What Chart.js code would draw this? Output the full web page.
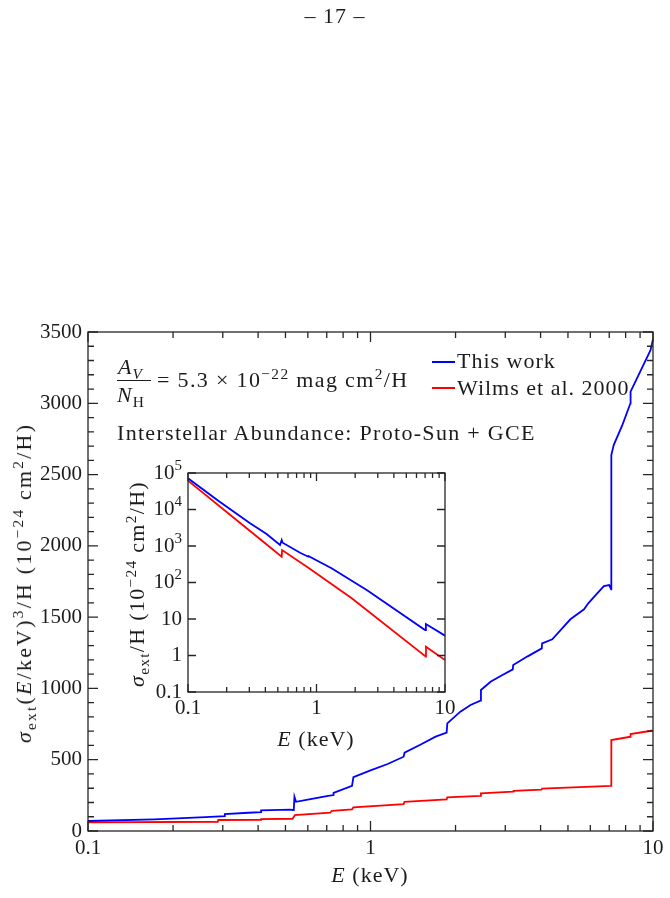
<!DOCTYPE html>
<html lang="en">
<head>
<meta charset="utf-8">
<title>sigma_ext</title>
<script src="https://cdn.jsdelivr.net/npm/chart.js@4.4.1/dist/chart.umd.min.js"></script>
<style>
  html, body { margin: 0; padding: 0; background: #fff; }
  #hoja { position: relative; width: 670px; height: 898px; overflow: hidden;
          font-family: "Liberation Serif", "DejaVu Serif", serif; color: #1c1c1c; }
  #hoja canvas { position: absolute; }
  #principal { left: 0; top: 0; }
  #inserto { left: 120px; top: 455px; }
  .txt { position: absolute; white-space: nowrap; font-size: 22px; line-height: 1; letter-spacing: 1px; }
  .sup { font-size: 70%; position: relative; top: -0.5em; }
  .sub { font-size: 70%; position: relative; top: 0.3em; }
  .centro { transform: translateX(-50%); }
  .rot { transform: translate(-50%, -50%) rotate(-90deg); }
  .barra { position: absolute; height: 1.2px; background: #1c1c1c; }
  .muestra { position: absolute; height: 2px; }
</style>
</head>
<body>
<div id="hoja">
  <canvas id="principal" width="670" height="898"></canvas>
  <canvas id="inserto" width="340" height="305"></canvas>

  <div class="txt centro" style="left:335px; top:5px;">– 17 –</div>

  <div class="txt" style="left:118px; top:356px;"><i>A</i><span class="sub"><i>V</i></span></div>
  <div class="barra" style="left:117px; top:380px; width:34px;"></div>
  <div class="txt" style="left:117px; top:384px;"><i>N</i><span class="sub">H</span></div>
  <div class="txt" style="left:157px; top:369px; letter-spacing:1.35px;">= 5.3 × 10<span class="sup">−22</span> mag cm<span class="sup">2</span>/H</div>
  <div class="txt" style="left:117px; top:422px; letter-spacing:1.3px;">Interstellar Abundance: Proto-Sun + GCE</div>

  <div class="muestra" style="left:432px; top:361px; width:23px; background:#0000ff;"></div>
  <div class="txt" style="left:457px; top:350px;">This work</div>
  <div class="muestra" style="left:432px; top:387px; width:23px; background:#ff0000;"></div>
  <div class="txt" style="left:457px; top:377px;">Wilms et al. 2000</div>

  <div class="txt centro" style="left:370px; top:864px;"><i>E</i> (keV)</div>
  <div class="txt centro" style="left:316px; top:728px;"><i>E</i> (keV)</div>

  <div class="txt rot" style="left:24px; top:583px; letter-spacing:2.2px;"><i>σ</i><span class="sub">ext</span>(<i>E</i>/keV)<span class="sup">3</span>/H (10<span class="sup">−24</span> cm<span class="sup">2</span>/H)</div>
  <div class="txt rot" style="left:137px; top:584px; letter-spacing:1.3px;"><i>σ</i><span class="sub">ext</span>/H (10<span class="sup">−24</span> cm<span class="sup">2</span>/H)</div>
</div>

<script>
// --- datos del panel principal: sigma_ext (E/keV)^3 / H ---
const energiaAzul = [0.1, 0.172, 0.26, 0.305, 0.305, 0.37, 0.41, 0.41, 0.52, 0.535, 0.538, 0.545, 0.6, 0.7, 0.74, 0.74,
    0.86, 0.87, 1.0, 1.15, 1.31, 1.32, 1.5, 1.7, 1.86, 1.87, 2.08, 2.26, 2.45, 2.46, 2.66, 2.92, 3.19, 3.2, 3.6,
    4.04, 4.05, 4.4, 5.1, 5.7, 5.9, 6.3, 6.7, 7.0, 7.11, 7.12, 7.26, 7.8, 8.32, 8.33, 9.0, 9.8, 10];
const valorAzul = [70, 82, 98, 105, 119, 128, 133, 145, 150, 146, 240, 205, 220, 245, 252, 268,
    316, 378, 425, 470, 521, 549, 605, 662, 690, 755, 837, 884, 914, 989, 1047, 1092, 1134, 1164, 1225,
    1281, 1316, 1345, 1485, 1555, 1597, 1660, 1718, 1725, 1695, 2637, 2707, 2850, 3000, 3082, 3220, 3373, 3450];

const energiaRoja = [0.1, 0.288, 0.289, 0.41, 0.41, 0.53, 0.54, 0.72, 0.73, 0.86, 0.87, 1.31, 1.32, 1.86, 1.87,
    2.45, 2.46, 3.2, 3.21, 4.03, 4.05, 7.11, 7.12, 8.32, 8.33, 10];
const valorRoja = [61, 65, 77, 78, 84, 86, 112, 128, 142, 152, 166, 189, 205, 222, 236,
    247, 264, 276, 282, 290, 297, 316, 638, 661, 680, 705];

// --- datos del recuadro: sigma_ext / H (log-log) ---
const energiaAzulIns = [0.1, 0.172, 0.304, 0.409, 0.52, 0.536, 0.545, 0.745, 0.863, 0.87, 1.31, 1.88, 2.46, 7.0, 7.1, 10];
const valorAzulIns = [71600, 17400, 4190, 2130, 1065, 1460, 1230, 655, 509, 525, 245, 112, 62.4, 5.0, 7.3, 3.5];
const energiaRojaIns = [0.1, 0.286, 0.405, 0.536, 0.54, 0.875, 1.88, 7.1, 7.11, 10];
const valorRojaIns = [61500, 3050, 1135, 509, 776, 245, 36.9, 0.93, 1.74, 0.75];

// --- marcas de ejes ---
const xMayores = [0.1, 1, 10];
const xMenores = [0.2, 0.3, 0.4, 0.5, 0.6, 0.7, 0.8, 0.9, 2, 3, 4, 5, 6, 7, 8, 9];
const yMayores = [0, 500, 1000, 1500, 2000, 2500, 3000, 3500];
const yMenores = [100, 200, 300, 400, 600, 700, 800, 900, 1100, 1200, 1300, 1400, 1600, 1700, 1800, 1900,
    2100, 2200, 2300, 2400, 2600, 2700, 2800, 2900, 3100, 3200, 3300, 3400];
const yInsTicks = [0.1, 1, 10, 100, 1000, 10000, 100000];
const yInsEtiquetas = [['0.1', ''], ['1', ''], ['10', ''], ['10', '2'], ['10', '3'], ['10', '4'], ['10', '5']];

const FUENTE = '"Liberation Serif", serif';
const TINTA = '#1c1c1c';

const puntos = (xs, ys) => xs.map((x, i) => ({ x: x, y: ys[i] }));

// caja con marcas hacia adentro en los cuatro lados
const cajaEjes = {
    id: 'cajaEjes',
    afterDraw(chart, args, opts) {
        const { ctx, chartArea: a, scales } = chart;
        ctx.save();
        ctx.strokeStyle = '#262626';
        ctx.lineWidth = 1.3;
        ctx.beginPath();
        const marcaX = (v, largo) => {
            const px = scales.x.getPixelForValue(v);
            ctx.moveTo(px, a.bottom); ctx.lineTo(px, a.bottom - largo);
            ctx.moveTo(px, a.top); ctx.lineTo(px, a.top + largo);
        };
        const marcaY = (v, largo) => {
            const py = scales.y.getPixelForValue(v);
            ctx.moveTo(a.left, py); ctx.lineTo(a.left + largo, py);
            ctx.moveTo(a.right, py); ctx.lineTo(a.right - largo, py);
        };
        opts.xMay.forEach(v => marcaX(v, opts.largo));
        opts.xMen.forEach(v => marcaX(v, opts.corto));
        opts.yMay.forEach(v => marcaY(v, opts.largo));
        opts.yMen.forEach(v => marcaY(v, opts.corto));
        ctx.stroke();
        ctx.strokeRect(a.left, a.top, a.right - a.left, a.bottom - a.top);
        ctx.restore();
    }
};

// fondo blanco del recuadro
const fondoBlanco = {
    id: 'fondoBlanco',
    beforeDraw(chart) {
        const { ctx, chartArea: a } = chart;
        ctx.save();
        ctx.fillStyle = '#fff';
        ctx.fillRect(a.left, a.top, a.right - a.left, a.bottom - a.top);
        ctx.restore();
    }
};

// etiquetas 10^n del eje y del recuadro
const etiquetasPotencia = {
    id: 'etiquetasPotencia',
    afterDraw(chart) {
        const { ctx, chartArea: a, scales } = chart;
        ctx.save();
        ctx.fillStyle = TINTA;
        ctx.textBaseline = 'middle';
        ctx.textAlign = 'right';
        const xr = a.left - 6;
        yInsTicks.forEach((v, i) => {
            const py = scales.y.getPixelForValue(v);
            const [base, exp] = yInsEtiquetas[i];
            if (exp) {
                ctx.font = '15px ' + FUENTE;
                ctx.fillText(exp, xr, py - 7);
                const w = ctx.measureText(exp).width;
                ctx.font = '21px ' + FUENTE;
                ctx.fillText(base, xr - w, py);
            } else {
                ctx.font = '21px ' + FUENTE;
                ctx.fillText(base, xr, py);
            }
        });
        ctx.restore();
    }
};

const estiloLinea = (color) => ({
    borderColor: color,
    backgroundColor: color,
    borderWidth: 1.8,
    showLine: true,
    pointRadius: 0,
    tension: 0,
    fill: false
});

new Chart(document.getElementById('principal').getContext('2d'), {
    type: 'scatter',
    data: {
        datasets: [
            { label: 'This work', data: puntos(energiaAzul, valorAzul), ...estiloLinea('#0000ff') },
            { label: 'Wilms et al. 2000', data: puntos(energiaRoja, valorRoja), ...estiloLinea('#ff0000') }
        ]
    },
    options: {
        responsive: false,
        animation: false,
        layout: { padding: { left: 0, top: 332, right: 17, bottom: 37 } },
        plugins: {
            legend: { display: false },
            tooltip: { enabled: false },
            cajaEjes: { xMay: xMayores, xMen: xMenores, yMay: yMayores, yMen: yMenores, largo: 10, corto: 6 }
        },
        scales: {
            x: {
                type: 'logarithmic',
                min: 0.1,
                max: 10,
                afterBuildTicks: s => { s.ticks = xMayores.map(v => ({ value: v })); },
                afterFit: s => { s.height = 30; },
                grid: { display: false, drawTicks: false },
                border: { display: false },
                ticks: {
                    color: TINTA,
                    font: { family: FUENTE, size: 21 },
                    padding: 5,
                    maxRotation: 0,
                    autoSkip: false,
                    callback: v => String(v)
                }
            },
            y: {
                min: 0,
                max: 3500,
                afterBuildTicks: s => { s.ticks = yMayores.map(v => ({ value: v })); },
                afterFit: s => { s.width = 88; },
                grid: { display: false, drawTicks: false },
                border: { display: false },
                ticks: {
                    color: TINTA,
                    font: { family: FUENTE, size: 21 },
                    padding: 6,
                    callback: v => String(v)
                }
            }
        }
    },
    plugins: [cajaEjes]
});

new Chart(document.getElementById('inserto').getContext('2d'), {
    type: 'scatter',
    data: {
        datasets: [
            { data: puntos(energiaAzulIns, valorAzulIns), ...estiloLinea('#0000ff') },
            { data: puntos(energiaRojaIns, valorRojaIns), ...estiloLinea('#ff0000') }
        ]
    },
    options: {
        responsive: false,
        animation: false,
        layout: { padding: { left: 0, top: 18, right: 15, bottom: 38 } },
        plugins: {
            legend: { display: false },
            tooltip: { enabled: false },
            cajaEjes: { xMay: xMayores, xMen: xMenores, yMay: yInsTicks, yMen: [], largo: 8, corto: 5 }
        },
        scales: {
            x: {
                type: 'logarithmic',
                min: 0.1,
                max: 10,
                afterBuildTicks: s => { s.ticks = xMayores.map(v => ({ value: v })); },
                afterFit: s => { s.height = 30; },
                grid: { display: false, drawTicks: false },
                border: { display: false },
                ticks: {
                    color: TINTA,
                    font: { family: FUENTE, size: 21 },
                    padding: 4,
                    maxRotation: 0,
                    autoSkip: false,
                    callback: v => String(v)
                }
            },
            y: {
                type: 'logarithmic',
                min: 0.1,
                max: 100000,
                afterFit: s => { s.width = 68; },
                grid: { display: false, drawTicks: false },
                border: { display: false },
                ticks: { display: false }
            }
        }
    },
    plugins: [fondoBlanco, cajaEjes, etiquetasPotencia]
});
</script>
</body>
</html>
